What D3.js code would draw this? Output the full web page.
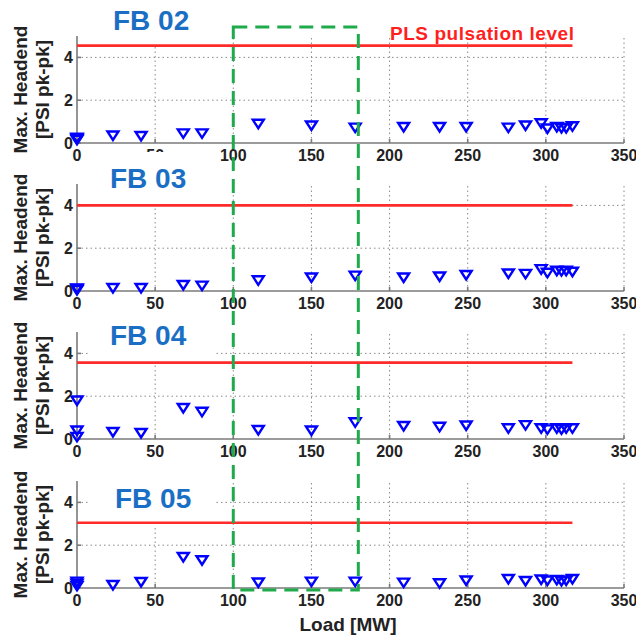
<!DOCTYPE html>
<html lang="en">
  <head>
    <meta charset="UTF-8" />
    <title>Max. Headend pulsation vs Load</title>
    <style>
      body {
        margin: 0;
        background: #fff;
      }
      text {
        font-family: "Liberation Sans", Arial, sans-serif;
      }
      .tick-label {
        font-size: 16px;
        font-weight: bold;
        fill: #222;
      }
      .grid {
        stroke: #8a8a8a;
        stroke-width: 1;
        stroke-dasharray: 1.5, 3;
      }
      .axis-line {
        stroke: #7a7a7a;
        stroke-width: 1.6;
      }
      .marker {
        fill: none;
        stroke: #0000ff;
        stroke-width: 2.4;
      }
    </style>
  </head>
  <body>
    <svg width="636" height="637"></svg>

    <script src="https://d3js.org/d3.v7.min.js"></script>
    <script>
      // load points (MW), shared by every burner panel
      const load = [0, 0, 0, 23, 41, 68, 80, 116, 150, 178, 209, 232, 249, 276, 287, 297, 301, 307, 310, 313, 317];

      const titles = ["FB 02", "FB 03", "FB 04", "FB 05"];
      const fb02 = [0.15, 0.2, 0.25, 0.35, 0.33, 0.45, 0.45, 0.9, 0.82, 0.72, 0.75, 0.75, 0.75, 0.72, 0.82, 0.92, 0.68, 0.75, 0.7, 0.7, 0.78];
      const fb03 = [0.05, 0.1, 0.12, 0.14, 0.14, 0.28, 0.25, 0.5, 0.63, 0.72, 0.63, 0.68, 0.75, 0.82, 0.8, 1.02, 0.85, 0.95, 0.93, 0.95, 0.9];
      const fb04 = [0.1, 0.4, 1.8, 0.33, 0.28, 1.45, 1.27, 0.42, 0.4, 0.78, 0.61, 0.57, 0.63, 0.5, 0.65, 0.5, 0.45, 0.5, 0.45, 0.5, 0.5];
      const fb05 = [0.1, 0.2, 0.3, 0.14, 0.28, 1.45, 1.3, 0.26, 0.3, 0.3, 0.25, 0.22, 0.35, 0.42, 0.33, 0.4, 0.35, 0.38, 0.33, 0.35, 0.42];
      const series = [fb02, fb03, fb04, fb05];
      const plsLevel = [4.55, 4.0, 3.57, 3.05];
      const plsMaxLoad = 317;

      const xTicks = [0, 50, 100, 150, 200, 250, 300, 350];
      const yTicks = [0, 2, 4];
      const highlight = [100, 180]; // load window marked by the green box

      // layout
      const left = 77,
        right = 624;
      const panelBottom = [143, 291, 439, 588];
      const panelHeight = 107;
      const titleBase = [30, 188, 345, 508];
      const titleX = [113, 110, 110, 115];

      const svg = d3.select("svg");
      const x = d3.scaleLinear().domain([0, 350]).range([left, right]);

      const tri = "M-5.5,-4 L5.5,-4 L0,4.5 Z";

      series.forEach((vals, i) => {
        const y = d3
          .scaleLinear()
          .domain([0, 5])
          .range([panelBottom[i], panelBottom[i] - panelHeight]);
        const g = svg.append("g");

        // dotted grid
        g.selectAll(".vg")
          .data(xTicks.slice(1))
          .join("line")
          .attr("class", "grid")
          .attr("x1", (d) => x(d))
          .attr("x2", (d) => x(d))
          .attr("y1", y(0))
          .attr("y2", y(5));
        g.selectAll(".hg")
          .data(yTicks.slice(1))
          .join("line")
          .attr("class", "grid")
          .attr("x1", x(0))
          .attr("x2", x(350))
          .attr("y1", (d) => y(d))
          .attr("y2", (d) => y(d));

        // white box behind the title hides the grid
        g.append("rect")
          .attr("x", 90)
          .attr("y", titleBase[i] - 36)
          .attr("width", 126)
          .attr("height", 53)
          .attr("fill", "#fff");

        // axes
        g.append("line")
          .attr("class", "axis-line")
          .attr("x1", x(0))
          .attr("x2", x(350))
          .attr("y1", y(0))
          .attr("y2", y(0));
        g.append("line")
          .attr("class", "axis-line")
          .attr("x1", x(0))
          .attr("x2", x(0))
          .attr("y1", y(0))
          .attr("y2", y(5));
        g.selectAll(".xt")
          .data(xTicks)
          .join("line")
          .attr("class", "axis-line")
          .attr("x1", (d) => x(d))
          .attr("x2", (d) => x(d))
          .attr("y1", y(0))
          .attr("y2", y(0) - 4);
        g.selectAll(".yt")
          .data(yTicks)
          .join("line")
          .attr("class", "axis-line")
          .attr("x1", x(0))
          .attr("x2", x(0) + 4)
          .attr("y1", (d) => y(d))
          .attr("y2", (d) => y(d));

        // PLS pulsation level
        g.append("line")
          .attr("x1", x(0))
          .attr("x2", x(plsMaxLoad))
          .attr("y1", y(plsLevel[i]))
          .attr("y2", y(plsLevel[i]))
          .attr("stroke", "#ff2a2a")
          .attr("stroke-width", 2.6);

        // markers
        g.selectAll(".marker")
          .data(vals.map((v, k) => [load[k], v]))
          .join("path")
          .attr("class", "marker")
          .attr("d", tri)
          .attr("transform", (d) => `translate(${x(d[0])},${y(d[1])})`);

        // tick labels
        g.selectAll(".xl")
          .data(xTicks)
          .join("text")
          .attr("class", "tick-label")
          .attr("x", (d) => x(d))
          .attr("y", y(0) + 18)
          .attr("text-anchor", "middle")
          .text((d) => d);
        g.selectAll(".yl")
          .data(yTicks)
          .join("text")
          .attr("class", "tick-label")
          .attr("x", x(0) - 4)
          .attr("y", (d) => y(d) + 6)
          .attr("text-anchor", "end")
          .text((d) => d);

        // y label
        const yl = g
          .append("text")
          .attr("transform", `translate(27,${y(2.5)}) rotate(-90)`)
          .attr("text-anchor", "middle")
          .attr("font-size", 19)
          .attr("font-weight", "bold")
          .attr("fill", "#222");
        yl.append("tspan").attr("x", 0).attr("dy", 0).text("Max. Headend");
        yl.append("tspan").attr("x", 0).attr("dy", 22).text("[PSI pk-pk]");

        // panel title
        g.append("text")
          .attr("x", titleX[i])
          .attr("y", titleBase[i])
          .attr("font-size", 28)
          .attr("font-weight", "bold")
          .attr("fill", "#1a6fc4")
          .text(titles[i]);
      });

      svg
        .append("text")
        .attr("x", 390)
        .attr("y", 40)
        .attr("font-size", 19)
        .attr("font-weight", "bold")
        .attr("fill", "#ff1f1f")
        .attr("textLength", 184)
        .text("PLS pulsation level");

      svg
        .append("text")
        .attr("x", 348)
        .attr("y", 631)
        .attr("text-anchor", "middle")
        .attr("font-size", 19)
        .attr("font-weight", "bold")
        .attr("fill", "#222")
        .text("Load [MW]");

      // green dashed window
      svg
        .append("rect")
        .attr("x", x(highlight[0]))
        .attr("y", 27)
        .attr("width", x(highlight[1]) - x(highlight[0]))
        .attr("height", 590 - 27)
        .attr("fill", "none")
        .attr("stroke", "#1faa4c")
        .attr("stroke-width", 3)
        .attr("stroke-dasharray", "14,8");
    </script>
  </body>
</html>
